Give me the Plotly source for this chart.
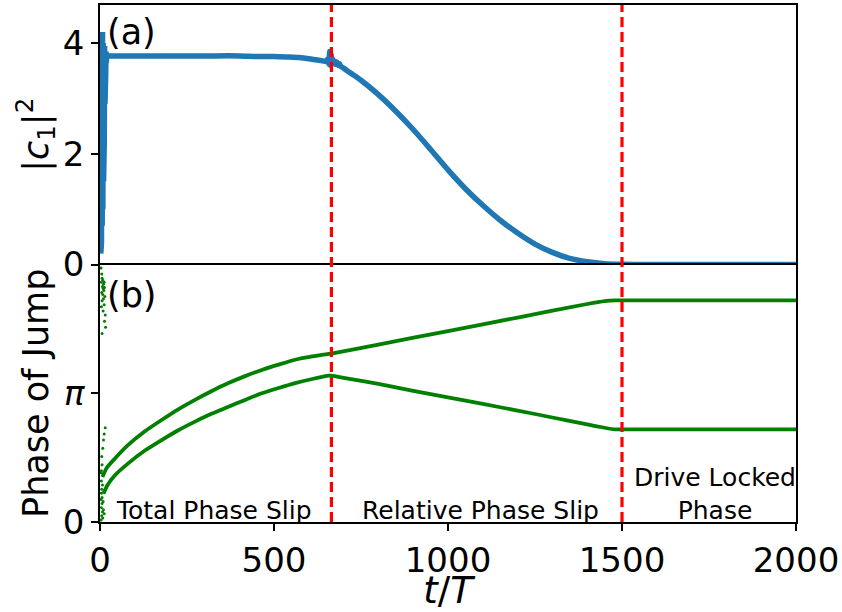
import numpy as np
import plotly.graph_objects as go
from plotly.subplots import make_subplots

PI = np.pi

# ---- Panel (a): |c1|^2 vs t/T ----
t_amp = [0, 1, 2, 3, 4, 5, 6, 7, 8, 9, 10, 11, 12, 13, 14, 15, 16, 17, 18, 19, 20,
         22, 25, 30, 40, 60, 100, 200, 300, 400, 450, 500, 540, 570, 600, 620, 640,
         650, 655, 658, 660, 662, 664, 666, 668, 670, 673, 676, 680, 684, 688, 692,
         700, 720, 750, 800, 850, 900, 950, 1000, 1050, 1100, 1150, 1200, 1250,
         1300, 1350, 1400, 1450, 1500, 1600, 1800, 2000]
c1_sq = [0.25, 0.3, 4.2, 0.2, 4.1, 0.4, 4.15, 0.7, 4.2, 1.0, 4.0, 1.5, 4.0, 2.2, 3.95, 2.9, 3.9, 3.4, 3.85, 3.65, 3.8,
         3.77, 3.77, 3.77, 3.77, 3.77, 3.77, 3.77, 3.77, 3.77, 3.76, 3.76, 3.75, 3.74, 3.72, 3.70, 3.68,
         3.67, 3.72, 3.62, 3.85, 3.60, 3.80, 3.62, 3.72, 3.64, 3.68, 3.62, 3.66, 3.60, 3.63, 3.58,
         3.55, 3.46, 3.33, 3.07, 2.77, 2.44, 2.08, 1.71, 1.37, 1.07, 0.80, 0.57, 0.37,
         0.22, 0.11, 0.05, 0.015, 0.004, 0.0, 0.0, 0.0]
N_TRANSIENT = 22  # points belonging to the initial oscillating transient

# ---- Panel (b): phase of jump vs t/T ----
t_up = [7, 20, 43, 81, 130, 177, 225, 273, 320, 369, 417, 465, 513, 561, 610, 657,
        665, 800, 1000, 1200, 1400, 1450, 1480, 1500, 2000]
phase_up = [1.10, 1.33, 1.55, 1.88, 2.22, 2.49, 2.75, 2.98, 3.19, 3.39, 3.56, 3.71, 3.84, 3.96, 4.04, 4.10,
            4.11, 4.33, 4.66, 4.99, 5.32, 5.39, 5.41, 5.41, 5.41]

t_low = [10, 20, 43, 81, 130, 177, 225, 273, 320, 369, 417, 465, 513, 561, 610, 657,
         665, 700, 800, 900, 1000, 1100, 1200, 1300, 1400, 1450, 1480, 1500, 2000]
phase_low = [0.69, 0.88, 1.14, 1.43, 1.75, 2.00, 2.24, 2.45, 2.64, 2.81, 2.98, 3.14, 3.27, 3.39, 3.49, 3.57,
             3.57, 3.52, 3.37, 3.20, 3.04, 2.88, 2.72, 2.55, 2.38, 2.30, 2.26, 2.26, 2.26]

# early scattered phase points
t_dots = [3, 5, 4, 6, 8, 10, 12, 7, 9, 11, 13, 5, 8, 14, 10, 6, 12, 4, 9, 15, 13, 16, 6,
          5, 8, 10, 12, 15, 6, 4,
          3, 4, 5, 3, 6, 4, 7, 5, 8, 3, 10, 6, 9, 12, 4, 7]
phase_dots = [6.20, 6.05, 5.85, 5.95, 5.90, 5.80, 5.85, 5.75, 5.70, 5.65, 5.72, 5.60, 5.55, 5.50, 5.45,
              5.40, 5.30, 5.25, 5.15, 5.05, 4.90, 4.75, 4.60,
              1.60, 1.80, 2.00, 2.15, 2.30, 1.40, 1.25,
              1.20, 1.00, 0.80, 0.55, 0.45, 0.35, 0.25, 0.15, 0.10, 0.05, 0.30, 0.60, 0.50, 0.20, 0.70, 0.90]

transitions = [665, 1500]

region_labels = ["Total Phase Slip", "Relative Phase Slip", "Drive Locked<br>Phase"]
region_x = [327, 1093, 1767]

FONT = "DejaVu Sans"
BLUE = "#1f77b4"
GREEN = "#008000"

fig = make_subplots(rows=2, cols=1, shared_xaxes=True, vertical_spacing=0)

fig.add_trace(go.Scatter(x=t_amp[:N_TRANSIENT], y=c1_sq[:N_TRANSIENT], mode="lines",
                         line=dict(color=BLUE, width=5), showlegend=False), row=1, col=1)
fig.add_trace(go.Scatter(x=t_amp[N_TRANSIENT - 1:], y=c1_sq[N_TRANSIENT - 1:], mode="lines",
                         line=dict(color=BLUE, width=5.5, shape="spline", smoothing=0.8),
                         showlegend=False), row=1, col=1)

fig.add_trace(go.Scatter(x=t_up, y=phase_up, mode="lines",
                         line=dict(color=GREEN, width=3.8, shape="spline", smoothing=0.6),
                         showlegend=False), row=2, col=1)
fig.add_trace(go.Scatter(x=t_low, y=phase_low, mode="lines",
                         line=dict(color=GREEN, width=3.8, shape="spline", smoothing=0.6),
                         showlegend=False), row=2, col=1)
fig.add_trace(go.Scatter(x=t_dots, y=phase_dots, mode="markers",
                         marker=dict(color=GREEN, size=3), showlegend=False), row=2, col=1)

for tx in transitions:
    fig.add_shape(type="line", x0=tx, x1=tx, y0=0, y1=1, xref="x", yref="paper",
                  line=dict(color="red", width=3.2, dash="10px,5px"))

axis_common = dict(showline=True, linecolor="black", linewidth=1.5,
                   showgrid=False, zeroline=False, automargin=False)

# top panel: only its top frame line (boundary drawn by the lower panel)
fig.update_xaxes(range=[0, 2000], showticklabels=False, ticks="", side="top", mirror=False,
                 row=1, col=1, **axis_common)
fig.update_xaxes(range=[0, 2000], mirror=True, ticks="outside", ticklen=7, tickwidth=1.5,
                 tickcolor="black", tickvals=[0, 500, 1000, 1500, 2000],
                 tickfont=dict(family=FONT, size=34, color="black"),
                 title=dict(text="<i>t</i>/<i>T</i>", font=dict(family=FONT, size=37, color="black"),
                            standoff=14),
                 row=2, col=1, **axis_common)

fig.update_yaxes(range=[0, 4.69], domain=[0.498, 1.0], mirror=True, ticks="outside", ticklen=7,
                 tickwidth=1.5, tickcolor="black", tickvals=[0, 2, 4],
                 tickfont=dict(family=FONT, size=34, color="black"),
                 title=dict(text="|<i>c</i><sub>1</sub>|<sup>2</sup>",
                            font=dict(family=FONT, size=35, color="black"), standoff=4),
                 row=1, col=1, **axis_common)
fig.update_yaxes(range=[0, 2 * PI], domain=[0.0, 0.498], mirror=True, ticks="outside", ticklen=7,
                 tickwidth=1.5, tickcolor="black", tickvals=[0, PI], ticktext=["0", "<i>π</i>"],
                 tickfont=dict(family=FONT, size=34, color="black"),
                 title=dict(text="Phase of Jump", font=dict(family=FONT, size=35, color="black"),
                            standoff=4),
                 row=2, col=1, **axis_common)

fig.add_annotation(x=15, y=4.2, xref="x", yref="y", text="(a)", showarrow=False,
                   xanchor="left", yanchor="middle", font=dict(family=FONT, size=35, color="black"))
fig.add_annotation(x=15, y=5.55, xref="x2", yref="y2", text="(b)", showarrow=False,
                   xanchor="left", yanchor="middle", font=dict(family=FONT, size=35, color="black"))

for lab, lx in zip(region_labels, region_x):
    fig.add_annotation(x=lx, y=0, xref="x2", yref="y2", text=lab, showarrow=False,
                       xanchor="center", yanchor="bottom", yshift=-5,
                       font=dict(family=FONT, size=25, color="black"))

fig.update_layout(width=842, height=612, margin=dict(l=100, r=46, t=5, b=90),
                  plot_bgcolor="white", paper_bgcolor="white",
                  font=dict(family=FONT, color="black"))

fig.write_html("out.html")
